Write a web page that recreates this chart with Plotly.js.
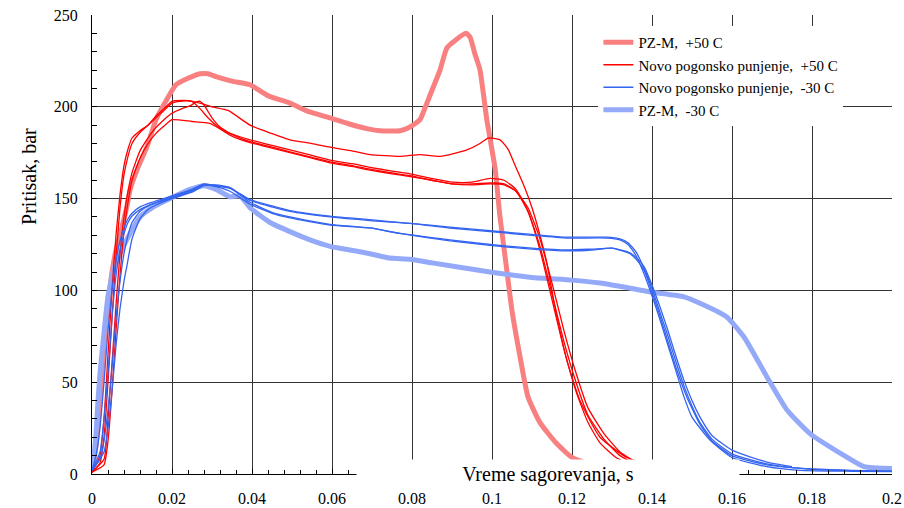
<!DOCTYPE html>
<html>
<head>
<meta charset="utf-8">
<script src="https://cdn.plot.ly/plotly-3.0.1.min.js"></script>
<style>html,body{margin:0;padding:0;background:#fff;}#chart{width:904px;height:508px;}</style>
</head>
<body>
<div id="chart"></div>
<script>
// ---- Data ----
const legendNames = ["PZ-M,\u00a0 +50 C", "Novo pogonsko punjenje,\u00a0 +50 C", "Novo pogonsko punjenje,\u00a0 -30 C", "PZ-M,\u00a0 -30 C"];
const xTitle = "Vreme sagorevanja, s";
const yTitle = "Pritisak, bar";

// PZ-M, +50 C
const pzm50X = [0, 0.001, 0.002, 0.003, 0.004, 0.005, 0.006, 0.007, 0.0075, 0.0087, 0.0095, 0.0115, 0.0137, 0.016, 0.0187, 0.021, 0.024, 0.027, 0.029, 0.031, 0.035, 0.0395, 0.044, 0.0495, 0.054, 0.0595, 0.0645, 0.069, 0.072, 0.077, 0.0795, 0.082, 0.083, 0.085, 0.087, 0.0887, 0.0907, 0.0935, 0.0945, 0.0957, 0.097, 0.0987, 0.1008, 0.102, 0.1037, 0.105, 0.107, 0.109, 0.112, 0.116, 0.120, 0.125, 0.130, 0.135];
const pzm50Y = [2, 15, 40, 70, 92, 110, 122, 130, 134.5, 145.5, 154.6, 167, 178, 193, 204, 212, 215.5, 218, 218, 216.5, 214, 212, 206, 202, 197.5, 194, 190.5, 188, 187, 187, 189, 193, 198, 209, 220, 232, 236, 240, 238, 229, 220, 193, 166, 140, 111, 89, 64, 42, 28, 17, 9, 5, 2.5, 1];

// Novo pogonsko punjenje, +50 C (four runs)
const red1X = [0, 0.002, 0.003, 0.004, 0.005, 0.006, 0.007, 0.008, 0.009, 0.010, 0.012, 0.014, 0.016, 0.018, 0.020, 0.023, 0.025, 0.027, 0.029, 0.031, 0.034, 0.0395, 0.045, 0.0495, 0.055, 0.0595, 0.065, 0.0695, 0.075, 0.0795, 0.085, 0.090, 0.095, 0.0995, 0.103, 0.106, 0.109, 0.112, 0.115, 0.118, 0.121, 0.124, 0.127, 0.131, 0.135, 0.14];
const red1Y = [1, 10, 30, 65, 100, 130, 152, 168, 177, 183, 187, 190, 195, 199, 203, 203.5, 203, 199, 194, 190, 186, 182, 179, 176.5, 173.5, 171, 169, 167, 165, 163.5, 161, 159, 159, 161, 160, 155, 143, 122, 95, 68, 45, 28, 17, 9, 5, 3];
const red2X = [0, 0.002, 0.003, 0.004, 0.005, 0.006, 0.007, 0.008, 0.009, 0.010, 0.012, 0.014, 0.016, 0.018, 0.020, 0.022, 0.025, 0.027, 0.030, 0.034, 0.0395, 0.043, 0.0495, 0.055, 0.0595, 0.065, 0.0695, 0.077, 0.082, 0.087, 0.0937, 0.097, 0.099, 0.102, 0.104, 0.106, 0.108, 0.110, 0.112, 0.1137, 0.116, 0.1187, 0.122, 0.127, 0.1337, 0.139];
const red2Y = [1, 6, 20, 50, 85, 118, 145, 163, 173, 180, 186, 190, 194, 198, 202, 203, 203, 202, 200, 198, 190, 187, 182, 180, 178, 176, 174, 173, 174, 173, 176.5, 180, 183, 182, 177, 167, 157, 145, 130, 115, 88, 62, 40, 20, 9, 5];
const red3X = [0, 0.003, 0.004, 0.005, 0.006, 0.007, 0.008, 0.009, 0.010, 0.012, 0.0153, 0.018, 0.020, 0.0225, 0.0245, 0.026, 0.027, 0.028, 0.030, 0.032, 0.035, 0.0395, 0.045, 0.0495, 0.055, 0.0595, 0.065, 0.0695, 0.075, 0.0795, 0.085, 0.090, 0.095, 0.0995, 0.103, 0.106, 0.109, 0.112, 0.115, 0.118, 0.121, 0.124, 0.128, 0.132, 0.136, 0.14];
const red3Y = [1, 8, 30, 60, 92, 120, 140, 154, 164, 176, 187, 193, 196.5, 199, 200.5, 202.5, 203, 201, 194, 189, 185, 181, 178, 175.5, 172.5, 170, 168, 166, 164, 162.5, 160, 158, 158, 158.5, 158, 154, 143, 124, 98, 72, 50, 32, 19, 10, 5.5, 3];
const red4X = [0, 0.003, 0.004, 0.005, 0.006, 0.007, 0.008, 0.009, 0.010, 0.012, 0.014, 0.016, 0.018, 0.020, 0.025, 0.0295, 0.032, 0.035, 0.0395, 0.045, 0.0495, 0.055, 0.0595, 0.065, 0.0695, 0.075, 0.0795, 0.085, 0.090, 0.095, 0.0995, 0.103, 0.106, 0.109, 0.112, 0.115, 0.118, 0.121, 0.124, 0.128, 0.132, 0.136, 0.14];
const red4Y = [1, 5, 18, 45, 78, 108, 132, 148, 160, 172, 180, 185.5, 189.5, 193, 192, 191, 188, 184, 180.5, 177.5, 175, 172, 169.5, 167.5, 165.5, 163.5, 162, 160, 158, 157.5, 158, 157.5, 154, 145, 128, 104, 78, 55, 36, 22, 12, 6.5, 4];

// Novo pogonsko punjenje, -30 C (four runs)
const blue1X = [0, 0.001, 0.002, 0.003, 0.004, 0.005, 0.006, 0.007, 0.008, 0.009, 0.010, 0.012, 0.015, 0.020, 0.025, 0.028, 0.031, 0.0345, 0.0395, 0.045, 0.0495, 0.0595, 0.0695, 0.0795, 0.0895, 0.0995, 0.110, 0.1187, 0.1287, 0.132, 0.134, 0.136, 0.138, 0.140, 0.142, 0.144, 0.146, 0.148, 0.150, 0.1545, 0.160, 0.1687, 0.177, 0.19, 0.2];
const blue1Y = [2, 10, 25, 50, 78, 100, 116, 127, 134, 139, 142, 145.5, 148, 151.5, 155, 158, 157, 156, 149, 145.5, 143, 140, 138, 136.5, 134, 132, 130, 128.5, 128.5, 127.5, 125, 119, 109, 97, 84, 70, 56, 42, 31, 18.5, 9, 4, 2, 1.5, 1.3];
const blue2X = [0, 0.002, 0.003, 0.004, 0.005, 0.006, 0.007, 0.008, 0.009, 0.010, 0.012, 0.015, 0.020, 0.025, 0.028, 0.031, 0.0345, 0.0395, 0.045, 0.0495, 0.0595, 0.0695, 0.0795, 0.0895, 0.0995, 0.110, 0.1187, 0.1287, 0.132, 0.134, 0.136, 0.138, 0.140, 0.142, 0.144, 0.146, 0.148, 0.150, 0.152, 0.155, 0.160, 0.1687, 0.175, 0.19, 0.2];
const blue2Y = [2, 8, 18, 35, 58, 85, 105, 120, 130, 137, 143, 147, 151, 154.5, 157.5, 157, 155.5, 149.5, 146, 143.5, 140.5, 138.5, 136.5, 134.5, 132.5, 130.5, 129, 129, 128, 126, 121, 112, 101, 88, 75, 61, 48, 37, 28, 19, 11, 5.5, 3.5, 2, 1.5];
const blue3X = [0, 0.002, 0.003, 0.004, 0.005, 0.006, 0.007, 0.008, 0.009, 0.010, 0.012, 0.015, 0.020, 0.025, 0.028, 0.031, 0.0345, 0.0395, 0.045, 0.0495, 0.0595, 0.0695, 0.077, 0.0895, 0.0995, 0.110, 0.1187, 0.125, 0.130, 0.1345, 0.136, 0.138, 0.140, 0.142, 0.144, 0.146, 0.1487, 0.152, 0.155, 0.160, 0.1687, 0.18, 0.19, 0.2];
const blue3Y = [2, 12, 30, 55, 85, 108, 122, 131, 137, 140.5, 144, 147, 150.5, 154, 157.5, 156.5, 154, 147, 142, 139.5, 135.6, 134, 131, 127.5, 125, 123, 122, 122.5, 123, 120, 117, 111, 99, 86, 72, 58, 42, 27, 18, 10, 5, 2.5, 1.8, 1.5];
const blue4X = [0, 0.003, 0.004, 0.005, 0.006, 0.007, 0.008, 0.0087, 0.010, 0.012, 0.014, 0.016, 0.020, 0.025, 0.028, 0.031, 0.0345, 0.0395, 0.045, 0.0495, 0.0595, 0.0695, 0.077, 0.0895, 0.0995, 0.110, 0.1187, 0.125, 0.130, 0.1345, 0.136, 0.138, 0.140, 0.142, 0.144, 0.146, 0.148, 0.150, 0.152, 0.155, 0.160, 0.1687, 0.175];
const blue4Y = [2, 12, 25, 45, 70, 90, 105, 113, 128, 139, 144, 146.5, 150, 153.5, 157, 157.5, 156, 148, 142.5, 140, 136, 134, 131, 127, 124.5, 122.5, 121.5, 122, 123, 120.5, 118, 113, 103, 91, 78, 64, 51, 40, 31, 21, 13, 6.5, 4];

// PZ-M, -30 C
const pzm30X = [0, 0.0005, 0.001, 0.0015, 0.002, 0.003, 0.004, 0.0055, 0.007, 0.0095, 0.012, 0.015, 0.0195, 0.0245, 0.028, 0.031, 0.0345, 0.037, 0.0395, 0.0445, 0.0495, 0.0545, 0.0595, 0.0645, 0.0695, 0.0745, 0.0795, 0.085, 0.0995, 0.110, 0.120, 0.127, 0.135, 0.140, 0.148, 0.152, 0.1587, 0.163, 0.1687, 0.1737, 0.1795, 0.187, 0.193, 0.2];
const pzm30Y = [3, 10, 22, 40, 55, 77, 97, 112, 120, 131, 140, 145, 150, 155, 157, 155, 151, 151.5, 145, 137, 132, 127.5, 124, 122, 120, 117.6, 117, 115, 110, 107, 105.6, 104, 101, 99, 96.5, 93, 85.5, 74.6, 53, 35, 22, 11.4, 4, 3];

// ---- Styling ----
const serif = "Liberation Serif, Times New Roman, serif";
const cSalmon = "#f88080", cRed = "#ff0000", cBlue = "#3464f0", cLight = "#94aaf8";

function tr(x, y, color, width, name, showlegend, rank) {
  return {type: "scatter", mode: "lines", x: x, y: y, name: name,
    showlegend: showlegend, legendrank: rank, hoverinfo: "skip",
    line: {color: color, width: width, shape: "spline", smoothing: 0.5}};
}

const data = [
  tr(pzm50X, pzm50Y, cSalmon, 5, legendNames[0], true, 1),
  tr(pzm30X, pzm30Y, cLight, 5, legendNames[3], true, 4),
  tr(red1X, red1Y, cRed, 1.3, legendNames[1], true, 2),
  tr(red2X, red2Y, cRed, 1.3, legendNames[1], false, 2),
  tr(red3X, red3Y, cRed, 1.3, legendNames[1], false, 2),
  tr(red4X, red4Y, cRed, 1.3, legendNames[1], false, 2),
  tr(blue1X, blue1Y, cBlue, 1.3, legendNames[2], true, 3),
  tr(blue2X, blue2Y, cBlue, 1.3, legendNames[2], false, 3),
  tr(blue3X, blue3Y, cBlue, 1.3, legendNames[2], false, 3),
  tr(blue4X, blue4Y, cBlue, 1.3, legendNames[2], false, 3)
];

const layout = {
  width: 904, height: 508,
  margin: {l: 92, r: 12, t: 15, b: 34, pad: 0},
  paper_bgcolor: "#fff", plot_bgcolor: "#fff",
  font: {family: serif, color: "#000", size: 16},
  showlegend: true,
  legend: {x: 0.633, y: 0.976, xanchor: "left", yanchor: "top", bgcolor: "#fff",
    borderwidth: 0, font: {family: serif, size: 15, color: "#000"}, traceorder: "normal"},
  xaxis: {range: [0, 0.2], dtick: 0.02, tick0: 0, showgrid: true, gridcolor: "#333", gridwidth: 1,
    zeroline: false, showline: true, linecolor: "#000", linewidth: 1,
    ticks: "inside", ticklen: 5, tickcolor: "#000", ticklabelstandoff: 10,
    minor: {dtick: 0.004, ticks: "inside", ticklen: 4, tickcolor: "#000", showgrid: false},
    tickfont: {family: serif, size: 16, color: "#000"}, fixedrange: true},
  yaxis: {range: [0, 250], dtick: 50, tick0: 0, showgrid: true, gridcolor: "#333", gridwidth: 1,
    zeroline: false, showline: true, linecolor: "#000", linewidth: 1,
    ticks: "inside", ticklen: 5, tickcolor: "#000", ticklabelstandoff: 10,
    minor: {dtick: 10, ticks: "inside", ticklen: 5, tickcolor: "#000", showgrid: false},
    tickfont: {family: serif, size: 16, color: "#000"}, fixedrange: true},
  annotations: [
    {text: xTitle, xref: "paper", yref: "paper", x: 0.57, y: 0, xanchor: "center", yanchor: "middle",
      showarrow: false, bgcolor: "#fff", width: 380, height: 26, font: {family: serif, size: 20, color: "#000"}},
    {text: yTitle, xref: "paper", yref: "paper", x: -0.079, y: 0.649, xanchor: "center", yanchor: "middle",
      textangle: -90, showarrow: false, font: {family: serif, size: 20, color: "#000"}}
  ]
};

Plotly.newPlot("chart", data, layout, {displayModeBar: false, staticPlot: true});
</script>
</body>
</html>
